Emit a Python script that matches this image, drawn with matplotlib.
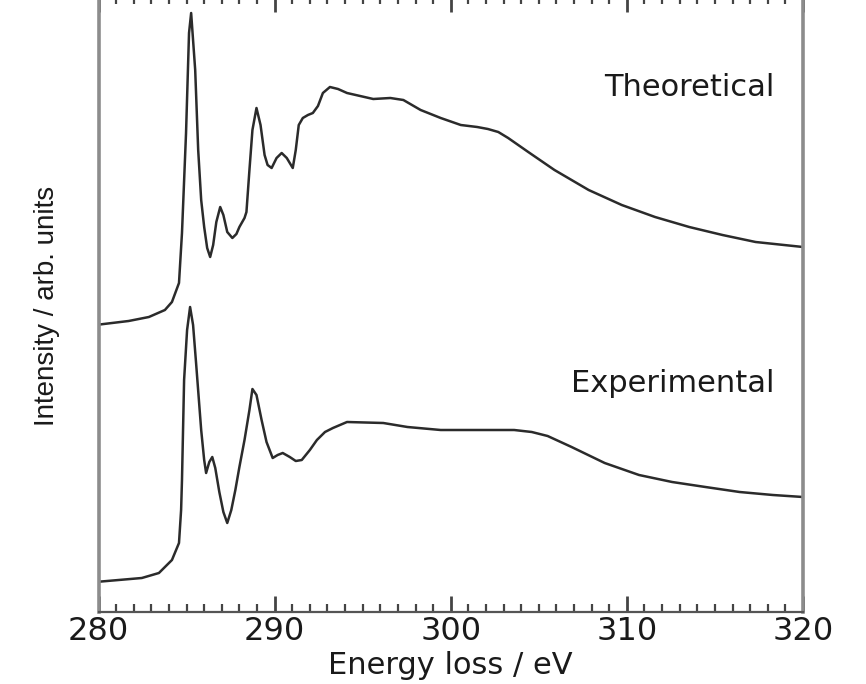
import matplotlib
matplotlib.use("Agg")
import matplotlib.pyplot as plt
from matplotlib import font_manager
from matplotlib.ticker import MultipleLocator

# energy loss (eV) and intensity (arb. units)
theo_e = [279.83, 281.71, 282.86, 283.77, 284.17, 284.57, 284.74, 284.97, 285.14,
          285.26, 285.49, 285.66, 285.83, 286.00, 286.17, 286.34, 286.51, 286.69,
          286.91, 287.09, 287.31, 287.60, 287.83, 288.00, 288.29, 288.40, 288.57,
          288.74, 288.97, 289.20, 289.43, 289.60, 289.83, 290.11, 290.40, 290.69,
          291.03, 291.20, 291.37, 291.60, 291.89, 292.17, 292.46, 292.74, 293.14,
          293.60, 294.11, 295.60, 296.57, 297.31, 298.29, 299.43, 300.57, 301.50,
          302.11, 302.70, 303.26, 304.40, 305.89, 307.83, 309.71, 311.60, 313.54,
          315.43, 317.31, 320.00]
theo_i = [2.87, 2.91, 2.95, 3.02, 3.10, 3.29, 3.79, 4.79, 5.79,
          5.99, 5.42, 4.62, 4.12, 3.85, 3.64, 3.55, 3.67, 3.90,
          4.05, 3.97, 3.80, 3.74, 3.78, 3.85, 3.94, 4.00, 4.42,
          4.82, 5.04, 4.87, 4.57, 4.47, 4.44, 4.54, 4.59, 4.54,
          4.44, 4.62, 4.87, 4.94, 4.97, 4.99, 5.06, 5.19, 5.25,
          5.23, 5.19, 5.13, 5.14, 5.12, 5.02, 4.94, 4.87, 4.85,
          4.83, 4.80, 4.74, 4.60, 4.42, 4.22, 4.07, 3.95, 3.85,
          3.77, 3.70, 3.65]

expt_e = [279.83, 282.46, 283.43, 284.17, 284.57, 284.69, 284.74, 284.86, 285.03,
          285.20, 285.37, 285.54, 285.83, 286.00, 286.11, 286.29, 286.46, 286.63,
          286.86, 287.09, 287.31, 287.54, 287.77, 288.00, 288.29, 288.57, 288.74,
          288.97, 289.26, 289.54, 289.89, 290.17, 290.46, 290.86, 291.20, 291.54,
          292.00, 292.40, 292.86, 293.31, 294.11, 296.17, 297.54, 299.43, 301.31,
          303.60, 304.60, 305.50, 306.86, 308.74, 310.69, 312.57, 314.46, 316.40,
          318.29, 320.00]
expt_i = [0.30, 0.34, 0.39, 0.52, 0.69, 1.02, 1.32, 2.32, 2.82,
          3.05, 2.87, 2.49, 1.82, 1.52, 1.39, 1.50, 1.55, 1.44,
          1.20, 1.00, 0.89, 1.02, 1.22, 1.45, 1.72, 2.02, 2.23,
          2.17, 1.92, 1.70, 1.54, 1.57, 1.59, 1.55, 1.51, 1.52,
          1.62, 1.72, 1.80, 1.84, 1.90, 1.89, 1.85, 1.82, 1.82,
          1.82, 1.80, 1.76, 1.65, 1.49, 1.37, 1.30, 1.25, 1.20,
          1.17, 1.15]

xticks = [280, 290, 300, 310, 320]

names = {f.name for f in font_manager.fontManager.ttflist}
if 'Liberation Sans Narrow' in names:
    ylab_font, ylab_size = 'Liberation Sans Narrow', 24
else:
    ylab_font, ylab_size = 'Liberation Sans', 20

W, H = 866, 684
fig = plt.figure(figsize=(W / 100, H / 100), dpi=100)
ax = fig.add_axes([98.5 / W, (H - 612) / H, (803 - 98.5) / W, 616 / H])

line_kw = dict(color='#2b2b2b', lw=1.8)
ax.plot(theo_e, theo_i, **line_kw)
ax.plot(expt_e, expt_i, **line_kw)

ax.set_xlim(280, 320)
ax.set_ylim(0, 6.16)
ax.set_xticks(xticks)
ax.xaxis.set_minor_locator(MultipleLocator(1))
ax.set_yticks([])

for s in ['left', 'right']:
    ax.spines[s].set_color('#8c8c8c')
    ax.spines[s].set_linewidth(2.6)
ax.spines['bottom'].set_color('#555555')
ax.spines['bottom'].set_linewidth(1.6)
ax.spines['top'].set_color('#555555')
ax.spines['top'].set_linewidth(1.6)

ax.tick_params(axis='x', which='both', direction='in', top=True, bottom=True,
               colors='#444444')
ax.tick_params(axis='x', which='major', length=11.5, width=2.0, pad=3,
               labelsize=23, labelcolor='#1a1a1a')
ax.tick_params(axis='x', which='minor', length=5.5, width=1.6)
for lab in ax.get_xticklabels():
    lab.set_fontfamily('DejaVu Sans')

ax.set_xlabel('Energy loss / eV', fontsize=22, family='DejaVu Sans',
              color='#1a1a1a', labelpad=3)
ax.set_ylabel('Intensity / arb. units', fontsize=ylab_size, family=ylab_font,
              color='#1a1a1a')
ax.yaxis.set_label_coords(-0.073, 0.497)
ax.yaxis.label.set_va('center')

ax.text(318.4, 5.25, 'Theoretical', ha='right', va='center', fontsize=22,
        family='DejaVu Sans', color='#1a1a1a')
ax.text(318.4, 2.29, 'Experimental', ha='right', va='center', fontsize=22,
        family='DejaVu Sans', color='#1a1a1a')

fig.savefig('out.png', dpi=100)
